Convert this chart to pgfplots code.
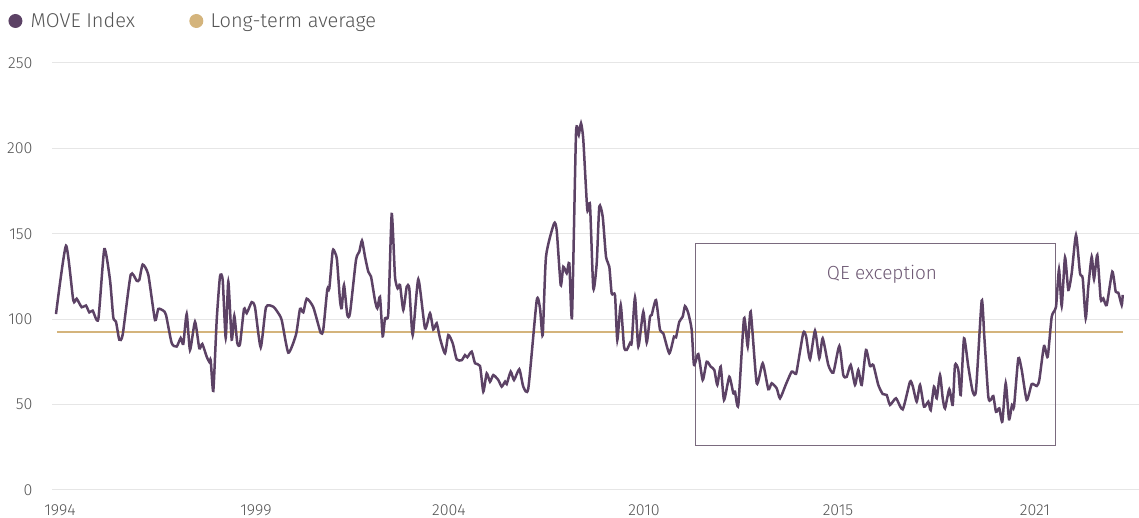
\documentclass[border=0pt]{standalone}
\usepackage{fontspec}
\setmainfont{Fira Sans}[UprightFont=* Light]
\usepackage{pgfplots}
\usepackage{pgfplotstable}
\pgfplotsset{compat=1.18}
\definecolor{movec}{HTML}{5C4265}
\definecolor{avgc}{HTML}{D4B47C}
\definecolor{gridc}{HTML}{E6E6E6}
\definecolor{txtc}{HTML}{555555}
\definecolor{boxc}{HTML}{7A6A7E}
\definecolor{qec}{HTML}{6D5873}
\pgfplotstableread{
t v
56 103
66 143
73.3 111
76.7 112
81.7 107
86 108
89.3 104
92.7 105
98.3 100
104.3 141
110 123
113.3 101
116 98.5
119.3 88
122.7 91
130.7 126
136.7 122.5
139.3 123
142.7 132
148.3 126
155 99.5
158.3 106
163.3 105
166 102.5
171.7 86
176.7 84
180.7 89
183.3 85.5
186.7 103
190 82
195 98.5
199.3 83
202.3 85.5
206.7 78
209.3 75
210.7 76
213.3 58
216.7 99.5
220 125
222.7 123
225.7 89
228.3 122
231.7 88
234.3 102
237.3 86
240 85.5
244 106
246.7 103.5
251.7 110
255 107
260.7 83.5
266 107
273.3 107.3
277.3 104.4
281.7 99.5
288.3 80.4
296 91
300 106
303.3 104
306.7 112
313.3 107
320.7 92
323.3 94
327.3 117.5
329.3 118
332.7 140
335 139
337 134.6
340 111
341.7 106.5
344 120
347.3 102.5
350 103.5
356 134.7
359.3 139.5
362 146
365 136.6
368.3 127.8
371 125
375 111
377.3 106.4
380 113
382.7 90
385 100.5
388.3 103.5
391.7 161.6
395 125
397.7 118
400 120
403.3 105.4
406.7 119
409.3 118
412.7 90.7
418.3 123.4
425 94.7
430 103.5
433.3 94
436.7 97.6
440 88.8
445 80
448.3 90.7
452.7 85.9
456.7 76.5
461.7 76
465 79
467.3 77.7
471.7 81
475 74.2
480 72.6
483.3 57.6
486.7 68.3
490 63.4
493.3 67.3
498.3 64.4
501.7 60.5
505 63.4
506.7 62
510.7 69.3
514 64.4
519.3 70.7
523.3 60.5
528.3 59.5
536.7 111
540 106.4
542.7 90.7
546 136.6
554 156
556.7 152
560.7 120
563.3 130.7
566.7 126.9
569.3 132.7
572 101.5
576 208.8
578.7 207.8
581 214.7
583.3 205
587.3 164
590 166.9
593.3 118
596.7 132.7
599.3 166
602.7 160
606 136.6
609.3 130.7
611.7 115
615 114
617.3 87.8
620.7 108.3
624 84
626.7 82
630 86
631.7 86.3
635 112.8
638.3 84
643.3 104.4
646.7 86.3
650 101.5
651.7 102.5
656 111.2
660 93.7
663.3 91.7
669.3 80
674 89.8
676 89.4
679.3 98.5
682.7 101.5
685 107.7
688.3 103.5
691.7 93.7
694 73.2
698.3 79.6
702.7 64.4
706.7 75.1
710.7 72.2
714.3 70.3
717.3 61.5
720.7 72.2
724 52.7
729.3 66.3
733.3 56.6
735 57.6
738.3 49.8
744 100.5
747.7 84
750.7 104.4
756.7 62.5
762.7 74.2
768.3 59
771.7 62.5
776.7 59.5
780 53.7
786 62
791.7 69.3
796 68
798.3 75.1
803.3 92.1
806 90.2
810 76.5
815 93.3
819.3 77.1
822.7 88.8
828.3 73.2
833.3 68.7
839.3 84.3
843.3 67.3
846.7 66.3
850.7 73.2
855 61.5
858.3 70.3
861.7 61.5
866 82
870 72.6
873.3 73.2
878.3 61.5
882.7 56.2
886.7 55.6
890 49.8
896 53.7
902.7 47.2
910 63.4
912.7 60.9
916.7 51.7
920 61.5
924 48.8
928.3 51.7
930.7 46.8
934 60.5
936.7 53.7
940 67.3
942.7 53.7
945 47.8
949.3 59
952.7 49.8
955 73.2
958.3 70.3
960.7 55.6
964 88.8
968.3 72.2
972.7 57.6
976 58.5
981.7 110.9
984.3 89.8
988.3 54.6
990.7 52.7
993.3 55
996 45.8
999.3 47.8
1002.3 40
1005.7 62.5
1009 41.4
1012 49.8
1014 48.8
1018.3 77.1
1021.7 70.3
1026.7 52.7
1031.7 62
1036.7 60.9
1039.3 64.4
1044 84.3
1047.7 78
1051.7 101.5
1056 107.3
1059 129.2
1061.7 107.7
1065 136.2
1068.3 117.1
1071.7 126.9
1076 149.3
1080 126.9
1082.7 124
1085.7 100.5
1088.3 119
1091.7 136.6
1094 123.4
1097.3 137.6
1100.7 111.7
1103.3 112.2
1106.7 108.3
1112.3 127.8
1115.7 116.1
1118.3 115.5
1121.7 108.3
1122.7 114.2
}\movedata
\begin{document}
\begin{tikzpicture}
\useasboundingbox (-52pt,-28pt) rectangle (1087pt,490pt);
\begin{axis}[
  at={(0,0)}, anchor=south west,
  width=1087pt, height=427pt, scale only axis,
  xmin=52, xmax=1139, ymin=0, ymax=250,
  ytick={0,50,100,150,200,250},
  xtick={60,256,449,644,838,1035},
  xticklabels={1994,1999,2004,2010,2015,2021},
  ymajorgrids, grid style={gridc, line width=1pt},
  axis line style={draw=none},
  major tick length=0pt,
  tick style={draw=none},
  /pgf/number format/assume math mode=true,
  tick label style={font=\fontsize{16}{16}\selectfont, text=txtc},
  yticklabel style={xshift=-16pt},
  xticklabel style={yshift=-11pt},
  legend style={at={(rel axis cs:0,1)}, anchor=west, xshift=-48pt, yshift=42pt,
    draw=none, fill=none, legend columns=2,
    font=\fontsize{20}{20}\selectfont, text=txtc,
    /tikz/every even column/.append style={column sep=52pt}},
  legend cell align=left,
  legend image code/.code={\fill[#1, draw=none] (7pt,0) circle (7pt); \path (0pt,0) (19pt,0);},
]
\addplot[avgc, line width=1.8pt, forget plot] coordinates {(57,92.3) (1123,92.3)};
\draw[boxc, line width=1pt] (axis cs:695,144.6) rectangle (axis cs:1055,26.3);
\node[text=qec, font=\fontsize{19}{19}\selectfont] at (axis cs:882,126.5) {QE exception};
\addplot[movec, line width=2.5pt, smooth, tension=0.35] table[x=t, y=v] {\movedata};
\addlegendentry{MOVE Index}
\addlegendimage{avgc}
\addlegendentry{Long-term average}
\end{axis}
\end{tikzpicture}
\end{document}
